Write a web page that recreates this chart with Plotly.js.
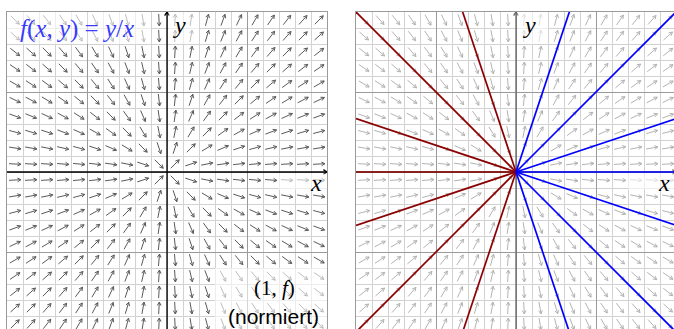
<!DOCTYPE html>
<html>
<head>
<meta charset="utf-8">
<script src="https://cdn.plot.ly/plotly-3.0.1.min.js"></script>
<style>
    body { margin: 0; overflow: hidden; background: #fff; }
    #chart { width: 680px; height: 340px; }
</style>
</head>
<body>
<div id="chart"></div>
<script>
// centres of the 0.2 grid cells (same for x and y)
var cellCenters = [-1.9, -1.7, -1.5, -1.3, -1.1, -0.9, -0.7, -0.5, -0.3, -0.1,
                   0.1, 0.3, 0.5, 0.7, 0.9, 1.1, 1.3, 1.5, 1.7, 1.9];
// slopes c of the solutions y = c*x drawn in the right panel
var solutionSlopes = [-3, -1, -1 / 3, 0, 1 / 3, 1, 3];
var leftHalf = [0, -2];
var rightHalf = [0, 2];
var axisRange = [-2, 2];

// the right hand side of y' = f(x, y)
function f(x, y) {
    return y / x;
}

// normalised direction field (1, f)/|(1, f)| as line segments with small barbs
function quiver(color, xaxis, yaxis) {
    var len = 0.15, head = 0.05, ang = 28 * Math.PI / 180;
    var xs = [], ys = [];
    cellCenters.forEach(function (cx) {
        cellCenters.forEach(function (cy) {
            var s = f(cx, cy);
            var n = Math.sqrt(1 + s * s);
            var ux = 1 / n, uy = s / n;
            var tx = cx + ux * len / 2, ty = cy + uy * len / 2;
            xs.push(cx - ux * len / 2, tx, null);
            ys.push(cy - uy * len / 2, ty, null);
            [ang, -ang].forEach(function (a) {
                var rx = ux * Math.cos(a) - uy * Math.sin(a);
                var ry = ux * Math.sin(a) + uy * Math.cos(a);
                xs.push(tx, tx - rx * head, null);
                ys.push(ty, ty - ry * head, null);
            });
        });
    });
    return {
        x: xs, y: ys, xaxis: xaxis, yaxis: yaxis,
        mode: 'lines', line: {color: color, width: 1},
        hoverinfo: 'skip', showlegend: false
    };
}

// coordinate axes with a small open tip at the ends
function axesTrace(color, xaxis, yaxis) {
    var t = 0.045, w = 0.03;
    return {
        x: [-2, 2, null, 2 - t, 2, 2 - t, null, 0, 0, null, -w, 0, w],
        y: [0, 0, null, w, 0, -w, null, -2, 2, null, 2 - t, 2, 2 - t],
        xaxis: xaxis, yaxis: yaxis,
        mode: 'lines', line: {color: color, width: 1.3},
        hoverinfo: 'skip', showlegend: false
    };
}

function solutions(half, color) {
    return solutionSlopes.map(function (c) {
        return {
            x: half,
            y: half.map(function (x) { return c * x; }),
            xaxis: 'x2', yaxis: 'y2',
            mode: 'lines', line: {color: color, width: 1.7},
            hoverinfo: 'skip', showlegend: false
        };
    });
}

var traces = [
    quiver('#5a5a5a', 'x', 'y'),
    axesTrace('#000000', 'x', 'y'),
    quiver('#b3b3b3', 'x2', 'y2'),
    axesTrace('#666666', 'x2', 'y2')
].concat(solutions(leftHalf, '#8b0000'), solutions(rightHalf, '#0000ff'));

function gridAxis(domain) {
    return {
        domain: domain, range: axisRange,
        showticklabels: false, ticks: '',
        tick0: 0, dtick: 1,
        showgrid: true, gridcolor: '#9a9a9a', gridwidth: 1,
        minor: {tick0: 0, dtick: 0.2, showgrid: true, gridcolor: '#d2d2d2', gridwidth: 1},
        zeroline: false,
        showline: true, mirror: true, linecolor: '#9a9a9a', linewidth: 1,
        fixedrange: true
    };
}

var W = 680, H = 340;
var yDom = [8 / H, 328 / H];

// semi transparent white boxes behind the labels
function veil(xref, yref, x0, x1, y0, y1) {
    return {
        type: 'rect', xref: xref, yref: yref, x0: x0, x1: x1, y0: y0, y1: y1,
        fillcolor: 'rgba(255,255,255,0.6)', line: {width: 0}, layer: 'above'
    };
}

var serif = '"Liberation Serif", "Times New Roman", serif';

function label(xref, yref, x, y, text, size, color, family) {
    return {
        xref: xref, yref: yref, x: x, y: y, text: text, showarrow: false,
        xanchor: 'center', yanchor: 'middle',
        font: {family: family || serif, size: size, color: color || '#000'}
    };
}

var layout = {
    width: W, height: H,
    margin: {l: 0, r: 0, t: 0, b: 0},
    paper_bgcolor: '#fff', plot_bgcolor: '#fff',
    xaxis: gridAxis([7 / W, 327 / W]),
    yaxis: Object.assign(gridAxis(yDom), {anchor: 'x'}),
    xaxis2: Object.assign(gridAxis([356 / W, 676 / W]), {anchor: 'y2'}),
    yaxis2: Object.assign(gridAxis(yDom), {anchor: 'x2'}),
    shapes: [
        veil('x', 'y', -2, -0.2, 1.6, 2),
        veil('x', 'y', 0.02, 0.4, 1.6, 2),
        veil('x', 'y', 1.4, 2, -0.22, -0.02),
        veil('x', 'y', 0.6, 2, -2, -1.2),
        veil('x2', 'y2', 0.02, 0.4, 1.6, 2),
        veil('x2', 'y2', 1.4, 2, -0.22, -0.02)
    ],
    annotations: [
        label('x', 'y', -1.13, 1.79,
              '<i>f</i>(<i>x</i>, <i>y</i>) = <i>y</i>/<i>x</i>', 25, '#3a3aff'),
        label('x', 'y', 0.16, 1.84, '<i>y</i>', 24),
        label('x', 'y', 1.86, -0.14, '<i>x</i>', 24),
        label('x', 'y', 1.34, -1.45, '(1, <i>f</i>)', 21),
        label('x', 'y', 1.33, -1.81, '(normiert)', 21, '#000', '"Liberation Sans", Arial, sans-serif'),
        label('x2', 'y2', 0.17, 1.84, '<i>y</i>', 24),
        label('x2', 'y2', 1.85, -0.14, '<i>x</i>', 24)
    ]
};

Plotly.newPlot('chart', traces, layout, {displayModeBar: false, staticPlot: true});
</script>
</body>
</html>
